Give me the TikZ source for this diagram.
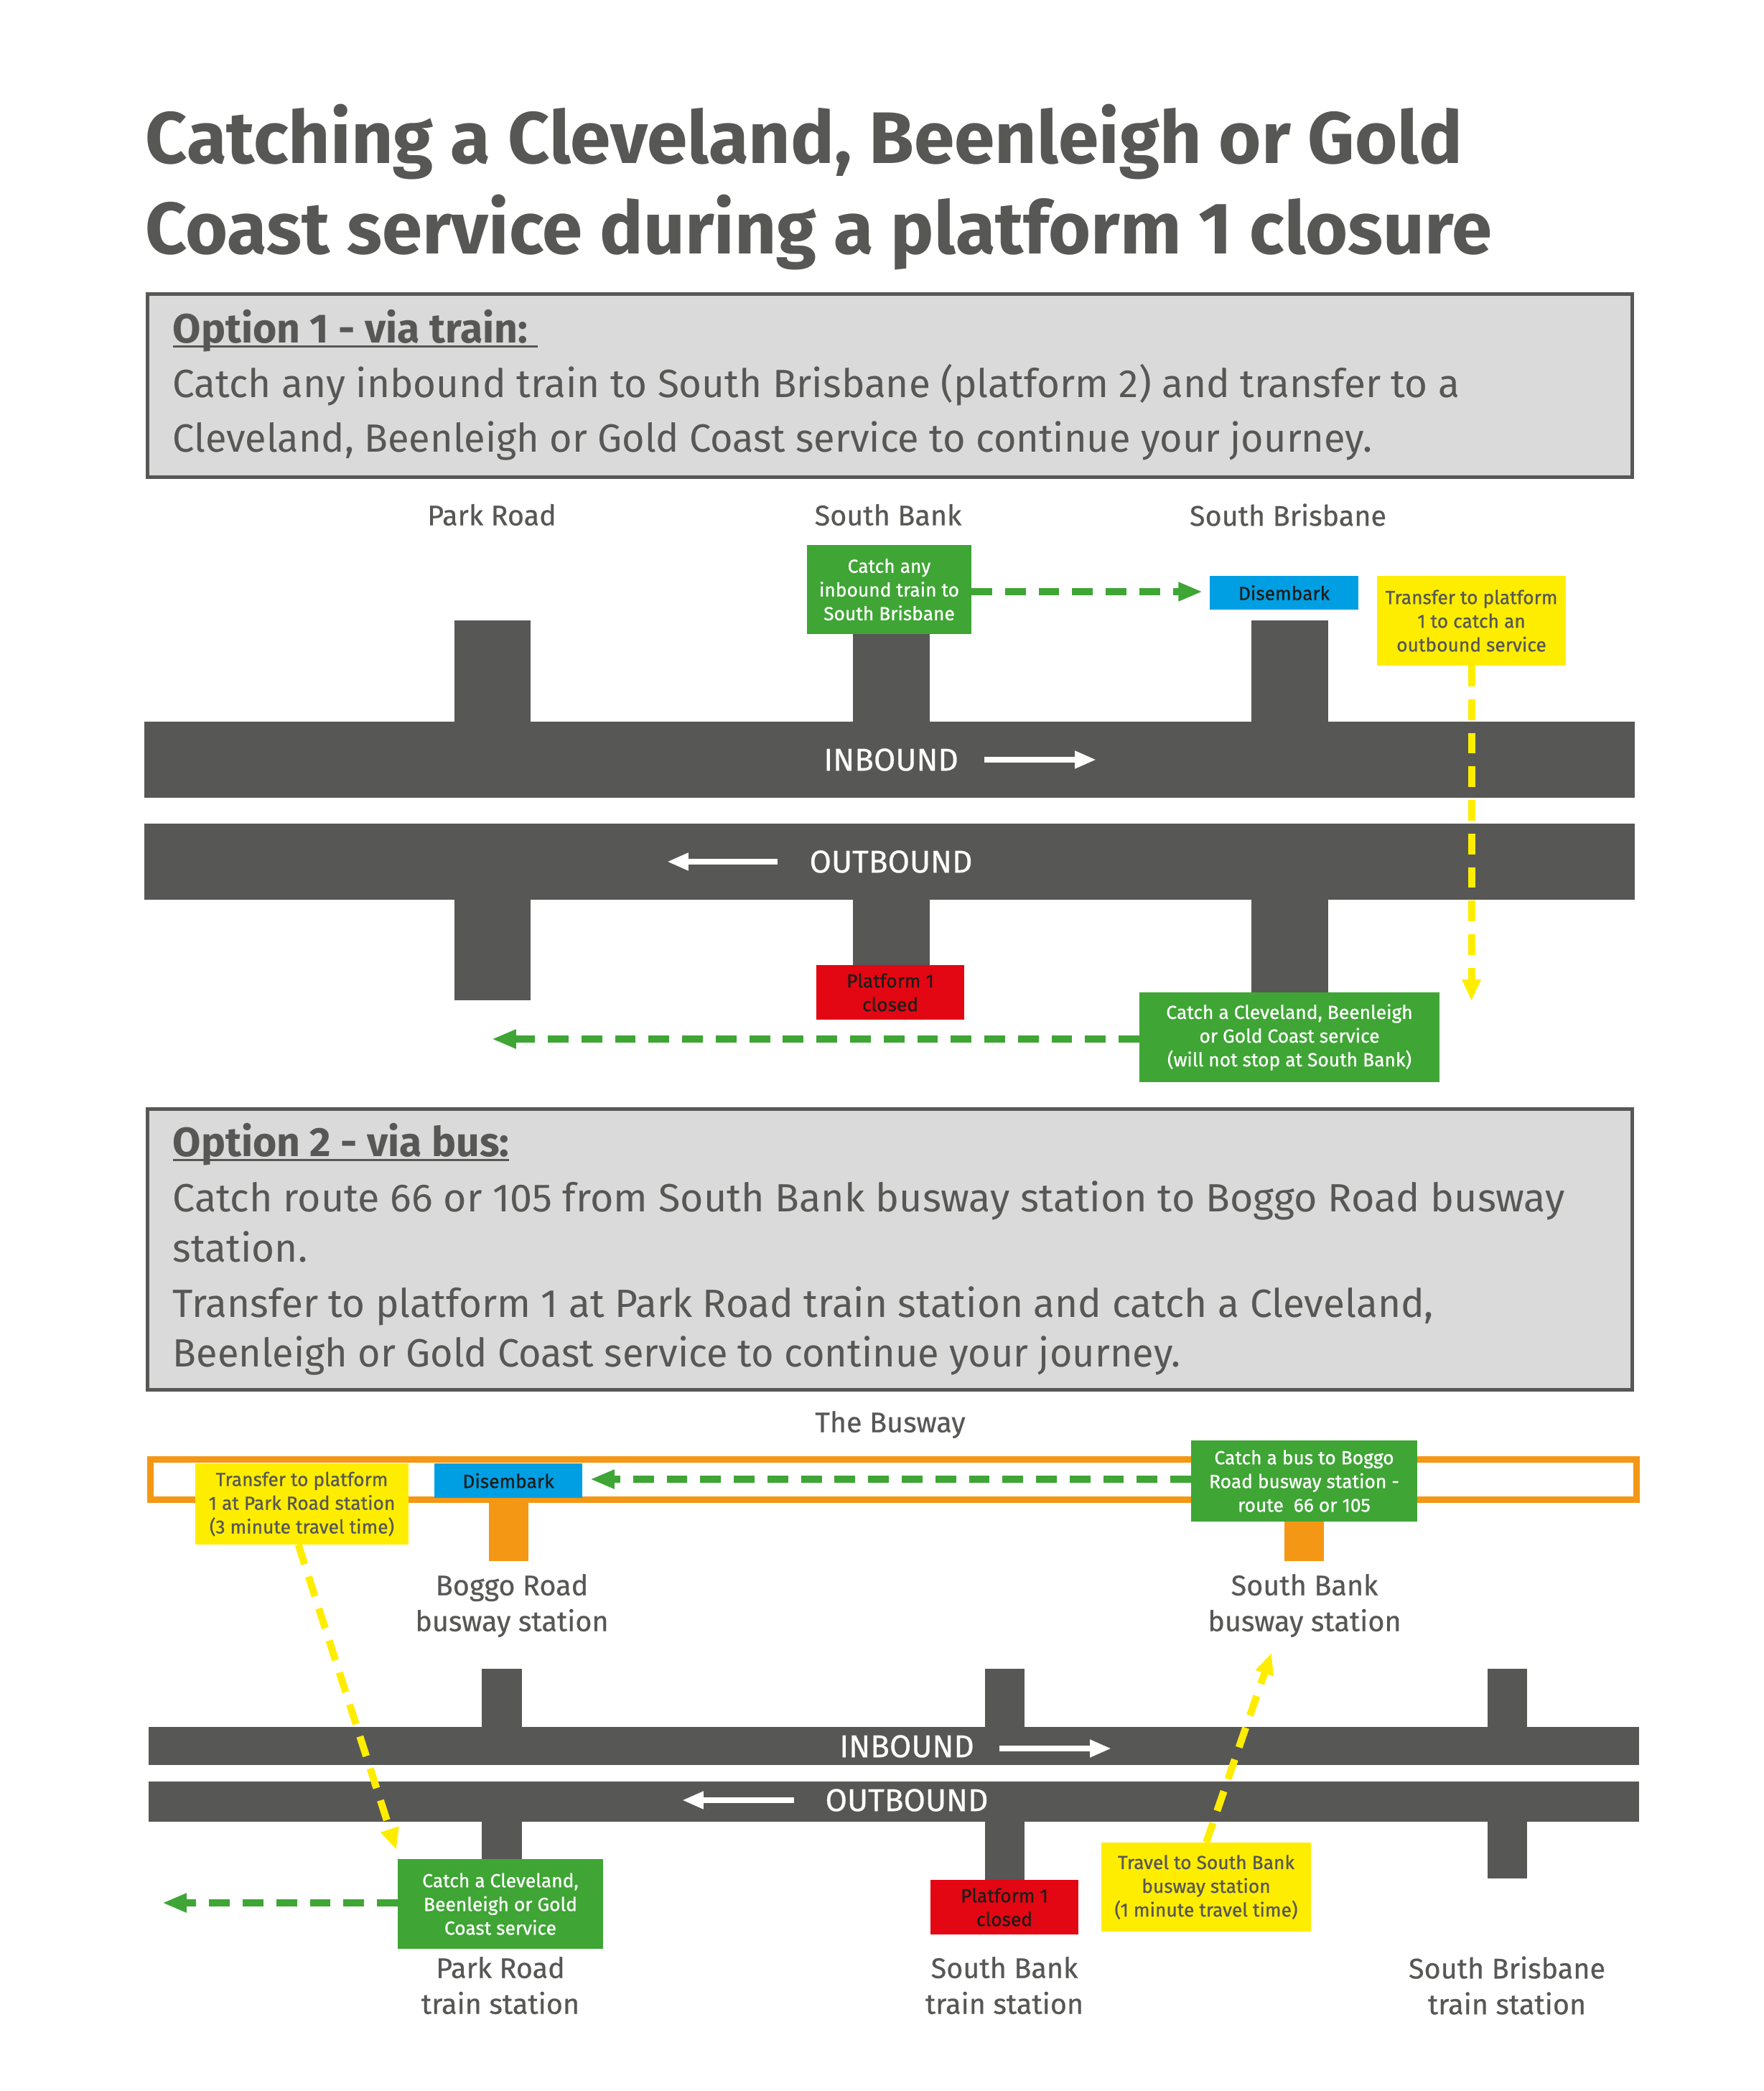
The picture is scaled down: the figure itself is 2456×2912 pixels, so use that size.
\documentclass[tikz,border=0pt]{standalone}
\usepackage{fontspec}
\setmainfont{Fira Sans}
\newfontfamily\medsmall{Fira Sans}[FakeBold=0.8]
\newfontfamily\medlab{Fira Sans}[FakeBold=0.5]
\usetikzlibrary{arrows.meta,calc}
\definecolor{dk}{HTML}{575756}
\definecolor{gn}{HTML}{3FA535}
\definecolor{bl}{HTML}{009FE3}
\definecolor{yl}{HTML}{FFED00}
\definecolor{rd}{HTML}{E30613}
\definecolor{og}{HTML}{F39715}
\definecolor{gy}{HTML}{DADADA}
\definecolor{nk}{HTML}{1D1D1B}
\newcommand\bx[7]{%
  \pgfmathsetmacro\bxw{(#4-#2)*0.01}%
  \pgfmathsetmacro\bxh{(#5-#3)*0.01}%
  \pgfmathsetmacro\bxx{(#2+#4)/2}%
  \pgfmathsetmacro\bxy{(#3+#5)/2}%
  \node[#6,minimum width=\bxw cm,minimum height=\bxh cm] (#1) at (\bxx,\bxy) {#7};}
\newcommand\ulx[1]{\setbox0=\hbox{#1}\rlap{\rule[-1.9pt]{\wd0}{0.85pt}}\box0}
\tikzset{
  x=0.01cm,y=-0.01cm,
  boxbase/.style={inner sep=0pt,outer sep=0pt,align=center,font=\medsmall\fontsize{7.5}{9.39}\selectfont},
  bar/.style={boxbase,fill=dk,text=white},
  stub/.style={boxbase,fill=dk},
  ostub/.style={boxbase,fill=og},
  gbox/.style={boxbase,fill=gn,text=white},
  bbox/.style={boxbase,fill=bl,text=nk},
  ybox/.style={boxbase,fill=yl,text=dk},
  rbox/.style={boxbase,fill=rd,text=nk},
  panel/.style={boxbase,fill=gy,draw=dk,line width=1.42pt},
  lab/.style={inner sep=0pt,align=center,text=dk,font=\medlab\fontsize{11.25}{14.2}\selectfont},
  bartext/.style={inner sep=0pt,text=white,font=\medlab\fontsize{12.5}{14}\selectfont},
  body/.style={inner sep=0pt,anchor=base west,text=dk,font=\fontsize{15.6}{18}\selectfont},
  head/.style={inner sep=0pt,anchor=base west,text=dk,font=\fontsize{16.2}{18}\selectfont\bfseries},
  ttl/.style={inner sep=0pt,anchor=base west,text=dk,font=\fontsize{28.9}{34}\selectfont\bfseries},
  garrow/.style={gn,line width=2.85pt,dash pattern=on 8.2pt off 5.1pt,-{Triangle[length=9.6pt,width=7pt]}},
  yarrow/.style={yl,line width=2.85pt,dash pattern=on 8.2pt off 5.1pt,-{Triangle[length=8.5pt,width=7pt]}},
  warrow/.style={white,line width=2.4pt,-{Triangle[length=8.5pt,width=6.5pt]}}
}
\begin{document}
\begin{tikzpicture}
\useasboundingbox (0,0) rectangle (2456,2912);
% title
\node[ttl] (t1) at (202,228) {Catching a Cleveland, Beenleigh or Gold};
\node[ttl] (t2) at (202,353) {\scalebox{0.996}[1]{Coast service during a platform 1 closure}};
% option 1 panel
\bx{p1}{205.5}{409.5}{2273.5}{664.5}{panel}{}
\node[head] (p1a) at (240,477) {\ulx{Option 1 - via train:\ }};
\node[body] (p1b) at (240,553) {Catch any inbound train to South Brisbane (platform 2) and transfer to a};
\node[body] (p1c) at (240,629) {\scalebox{0.986}[1]{Cleveland, Beenleigh or Gold Coast service to continue your journey.}};
\node[lab] (l1) at (685,717) {Park Road};
\node[lab] (l2) at (1237,717) {South Bank};
\node[lab] (l3) at (1794,717) {South Brisbane};
% stubs
\bx{s1}{633}{864}{739}{1005}{stub}{}
\bx{s2}{1188}{864}{1295}{1005}{stub}{}
\bx{s3}{1743}{864}{1850}{1005}{stub}{}
\bx{s4}{633}{1253}{739}{1393}{stub}{}
\bx{s5}{1188}{1253}{1295}{1393}{stub}{}
\bx{s6}{1743}{1253}{1850}{1393}{stub}{}
\bx{in1}{201}{1005}{2277}{1111}{bar}{}
\bx{out1}{201}{1147}{2277}{1253}{bar}{}
\node[bartext] (in1t) at (1241,1058) {INBOUND};
\node[bartext] (out1t) at (1241,1200) {OUTBOUND};
\coordinate (wa) at (1371,1058); \coordinate (wb) at (1527,1058);
\draw[warrow] (wa) -- (wb);
\coordinate (wc) at (1083,1200); \coordinate (wd) at (929,1200);
\draw[warrow] (wc) -- (wd);
% boxes
\bx{g1}{1124}{759}{1353}{883}{gbox}{Catch any\\inbound train to\\South Brisbane}
\bx{d1}{1685}{802}{1892}{849}{bbox}{Disembark}
\bx{y1}{1918}{802}{2181}{927}{ybox}{Transfer to platform\\1 to catch an\\outbound service}
\bx{r1}{1137}{1344}{1343}{1420}{rbox}{Platform 1\\closed}
\bx{g2}{1587}{1382}{2005}{1507}{gbox}{Catch a Cleveland, Beenleigh\\or Gold Coast service\\(will not stop at South Bank)}
\coordinate (a1) at (1675,824);
\draw[garrow] (g1.east |- a1) -- (a1);
\coordinate (a2) at (2049.5,1394);
\draw[yarrow] (y1.south) -- (a2);
\coordinate (a3) at (685,1447);
\draw[garrow] (g2.west |- a3) -- (a3);
% option 2 panel
\bx{p2}{205.5}{1544.5}{2273.5}{1935.5}{panel}{}
\node[head] (p2a) at (240,1610) {\ulx{Option 2 - via bus:}};
\node[body] (p2b) at (240,1687) {\scalebox{1.0136}[1]{Catch route 66 or 105 from South Bank busway station to Boggo Road busway}};
\node[body] (p2c) at (240,1757) {station.};
\node[body] (p2d) at (240,1834) {Transfer to platform 1 at Park Road train station and catch a Cleveland,};
\node[body] (p2e) at (240,1903) {\scalebox{0.986}[1]{Beenleigh or Gold Coast service to continue your journey.}};
\node[lab] (l4) at (1240,1984) {The Busway};
% busway
\node[draw=og,line width=2.56pt,inner sep=0pt,outer sep=0pt,minimum width=20.68cm,minimum height=0.56cm] (bw) at (1244.5,2060.5) {};
\bx{os1}{681}{2090}{736}{2174}{ostub}{}
\bx{os2}{1789}{2090}{1844}{2174}{ostub}{}
\node[lab] (l5) at (713,2236) {Boggo Road\\busway station};
\node[lab] (l6) at (1817,2236) {South Bank\\busway station};
% rail 2
\bx{s7}{671}{2324}{727}{2405}{stub}{}
\bx{s8}{1372}{2324}{1427}{2405}{stub}{}
\bx{s9}{2072}{2324}{2127}{2405}{stub}{}
\bx{s10}{671}{2537}{727}{2589}{stub}{}
\bx{s11}{1372}{2537}{1427}{2618}{stub}{}
\bx{s12}{2072}{2537}{2127}{2616}{stub}{}
\bx{in2}{207}{2405}{2283}{2458}{bar}{}
\bx{out2}{207}{2481}{2283}{2537}{bar}{}
\node[bartext] (in2t) at (1263,2432) {INBOUND};
\node[bartext] (out2t) at (1263,2507) {OUTBOUND};
\coordinate (we) at (1392,2435); \coordinate (wf) at (1548,2435);
\draw[warrow] (we) -- (wf);
\coordinate (wg) at (1106,2507); \coordinate (wh) at (950,2507);
\draw[warrow] (wg) -- (wh);
% boxes 2
\bx{y2}{272}{2038}{569}{2151}{ybox}{Transfer to platform\\1 at Park Road station\\(3 minute travel time)}
\bx{d2}{605}{2038}{811}{2086}{bbox}{Disembark}
\bx{g3}{1659}{2006}{1974}{2119}{gbox}{Catch a bus to Boggo\\Road busway station -\\route~ 66 or 105}
\bx{g4}{554}{2589}{840}{2714}{gbox}{Catch a Cleveland,\\Beenleigh or Gold\\Coast service}
\bx{r2}{1296}{2618}{1502}{2694}{rbox}{Platform 1\\closed}
\bx{y3}{1534}{2566}{1826}{2690}{ybox}{Travel to South Bank\\busway station\\(1 minute travel time)}
\coordinate (a4) at (822,2060);
\draw[garrow] (g3.west |- a4) -- (a4);
\coordinate (a5) at (552,2576);
\draw[yarrow] ($(y2.south)+(-5,0)$) -- (a5);
\coordinate (a6) at (226,2650);
\draw[garrow] (g4.west |- a6) -- (a6);
\coordinate (a7) at (1771,2302);
\draw[yarrow] (y3.north) -- (a7);
\node[lab] (l7) at (697,2765) {Park Road\\train station};
\node[lab] (l8) at (1399,2765) {South Bank\\train station};
\node[lab] (l9) at (2099,2765) {South Brisbane\\train station};
\end{tikzpicture}
\end{document}
